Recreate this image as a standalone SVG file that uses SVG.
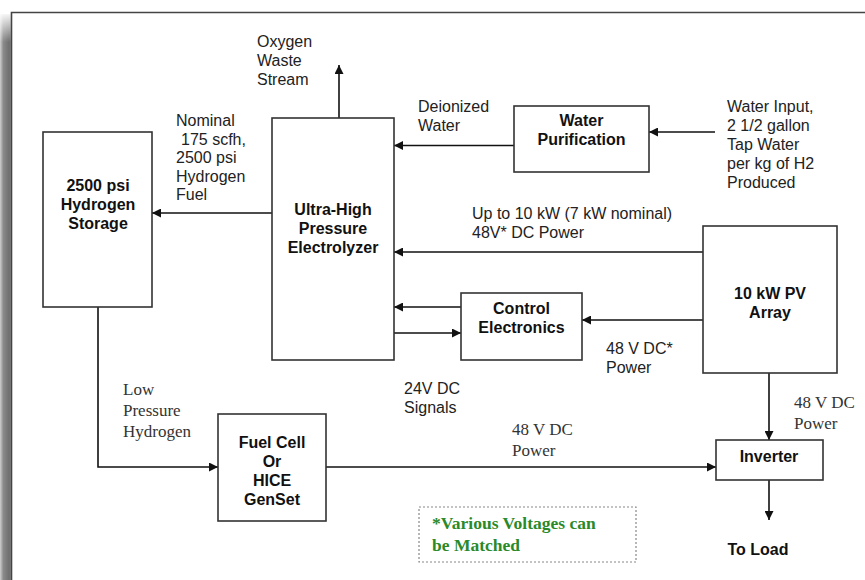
<svg xmlns="http://www.w3.org/2000/svg" width="865" height="580" viewBox="0 0 865 580">
<defs>
<marker id="ah" viewBox="0 0 10 10" refX="10" refY="5" markerWidth="9" markerHeight="9" markerUnits="userSpaceOnUse" orient="auto">
<path d="M0,0 L10,5 L0,10 z" fill="#111"/>
</marker>
<linearGradient id="sh" x1="0" y1="0" x2="1" y2="0">
<stop offset="0" stop-color="#d0d0d0"/>
<stop offset="0.3" stop-color="#8a8a8a"/>
<stop offset="0.85" stop-color="#6e6e6e"/>
<stop offset="1" stop-color="#9a9a9a"/>
</linearGradient>
<linearGradient id="shv" x1="0" y1="0" x2="0" y2="1">
<stop offset="0" stop-color="#fff" stop-opacity="1"/>
<stop offset="1" stop-color="#fff" stop-opacity="0"/>
</linearGradient>
</defs>
<style>
.box{fill:#fff;stroke:#333;stroke-width:1.6}
.b{font-family:"Liberation Sans",Arial,sans-serif;font-weight:bold;font-size:16px;fill:#111;text-anchor:middle}
.t{font-family:"Liberation Sans",Arial,sans-serif;font-size:16px;fill:#222}
.s{font-family:"Liberation Serif","Times New Roman",serif;font-size:17px;fill:#333}
.g{font-family:"Liberation Serif","Times New Roman",serif;font-size:17.5px;font-weight:bold;fill:#2a8a2a}
.c{stroke:#111;stroke-width:1.6;fill:none}
.ca{stroke:#111;stroke-width:1.6;fill:none;marker-end:url(#ah)}
</style>
<rect width="865" height="580" fill="#fff"/>
<g id="frame">
<rect x="0" y="14" width="11" height="566" fill="url(#sh)"/>
<rect x="0" y="12" width="11" height="30" fill="url(#shv)"/>
<path d="M11.5,580 V12.5 H865" fill="none" stroke="#444" stroke-width="1.6"/>
</g>
<g id="connectors">
<path class="ca" d="M339,118 V65"/>
<path class="ca" d="M514,145.5 H394"/>
<path class="ca" d="M715,132 H649"/>
<path class="ca" d="M272,213 H152"/>
<path class="ca" d="M703,252 H394"/>
<path class="ca" d="M461,307 H394"/>
<path class="ca" d="M394,333 H461"/>
<path class="ca" d="M703,320 H582"/>
<path class="ca" d="M769,373 V440"/>
<path class="ca" d="M98,307 V467 H218"/>
<path class="ca" d="M326,467 H716"/>
<path class="ca" d="M769,480 V520"/>
</g>
<g id="storage">
<rect class="box" x="43" y="132" width="109" height="175"/>
<text class="b" x="98" y="191">2500 psi</text>
<text class="b" x="98" y="210">Hydrogen</text>
<text class="b" x="98" y="229">Storage</text>
</g>
<g id="electrolyzer">
<rect class="box" x="272" y="118" width="122" height="242"/>
<text class="b" x="333" y="215">Ultra-High</text>
<text class="b" x="333" y="234">Pressure</text>
<text class="b" x="333" y="253">Electrolyzer</text>
</g>
<g id="purification">
<rect class="box" x="514" y="106" width="135" height="66"/>
<text class="b" x="581.5" y="126">Water</text>
<text class="b" x="581.5" y="145">Purification</text>
</g>
<g id="control">
<rect class="box" x="461" y="293" width="121" height="67"/>
<text class="b" x="521.5" y="314">Control</text>
<text class="b" x="521.5" y="333">Electronics</text>
</g>
<g id="pv">
<rect class="box" x="703" y="226" width="134" height="147"/>
<text class="b" x="770" y="299">10 kW PV</text>
<text class="b" x="770" y="318">Array</text>
</g>
<g id="fuelcell">
<rect class="box" x="218" y="414" width="108" height="107"/>
<text class="b" x="272" y="448">Fuel Cell</text>
<text class="b" x="272" y="467">Or</text>
<text class="b" x="272" y="486">HICE</text>
<text class="b" x="272" y="505">GenSet</text>
</g>
<g id="inverter">
<rect class="box" x="716" y="440" width="107" height="40"/>
<text class="b" x="769" y="462">Inverter</text>
</g>
<g id="load">
<text class="b" x="758" y="555">To Load</text>
</g>
<g id="note">
<rect x="419" y="507" width="217" height="55" fill="#fff" stroke="#888" stroke-width="1.2" stroke-dasharray="2,2"/>
<text class="g" x="432" y="529">*Various Voltages can</text>
<text class="g" x="432" y="551">be Matched</text>
</g>
<g id="labels">
<text class="t" x="257" y="47">Oxygen</text>
<text class="t" x="257" y="66">Waste</text>
<text class="t" x="257" y="85">Stream</text>
<text class="t" x="418" y="112">Deionized</text>
<text class="t" x="418" y="131">Water</text>
<text class="t" x="727" y="112">Water Input,</text>
<text class="t" x="727" y="131">2 1/2 gallon</text>
<text class="t" x="727" y="150">Tap Water</text>
<text class="t" x="727" y="169">per kg of H2</text>
<text class="t" x="727" y="188">Produced</text>
<text class="t" x="176" y="126">Nominal</text>
<text class="t" x="181" y="145">175 scfh,</text>
<text class="t" x="176" y="163">2500 psi</text>
<text class="t" x="176" y="182">Hydrogen</text>
<text class="t" x="176" y="200">Fuel</text>
<text class="t" x="472" y="219">Up to 10 kW (7 kW nominal)</text>
<text class="t" x="472" y="238">48V* DC Power</text>
<text class="t" x="606" y="354">48 V DC*</text>
<text class="t" x="606" y="373">Power</text>
<text class="t" x="404" y="394">24V DC</text>
<text class="t" x="404" y="413">Signals</text>
<text class="s" x="123" y="395">Low</text>
<text class="s" x="123" y="416">Pressure</text>
<text class="s" x="123" y="437">Hydrogen</text>
<text class="s" x="512" y="435">48 V DC</text>
<text class="s" x="512" y="456">Power</text>
<text class="s" x="794" y="408">48 V DC</text>
<text class="s" x="794" y="429">Power</text>
</g>
</svg>
